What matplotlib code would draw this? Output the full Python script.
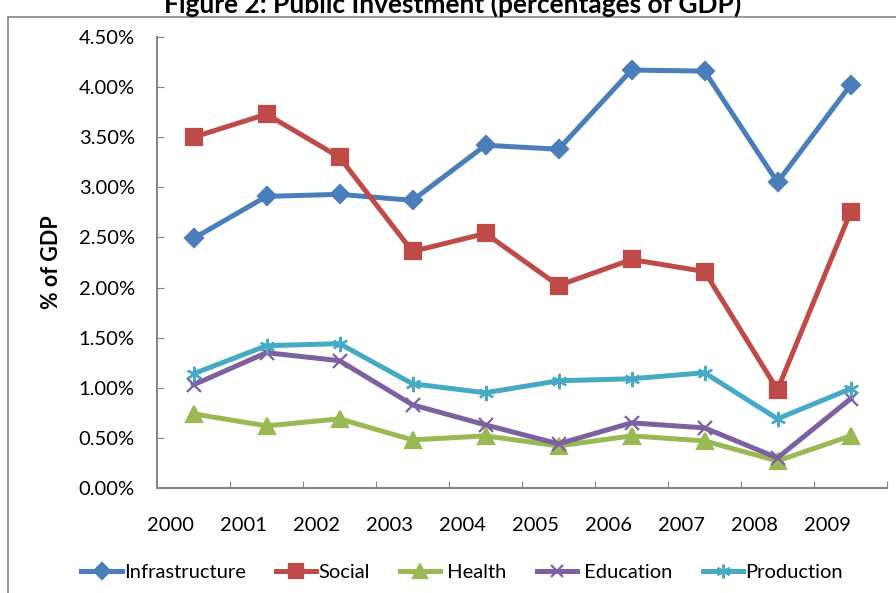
import matplotlib
matplotlib.use("Agg")
import matplotlib.pyplot as plt
from matplotlib.lines import Line2D
from matplotlib.ticker import FuncFormatter, FixedLocator

# --- Data (percent of GDP)
years = ["2000", "2001", "2002", "2003", "2004", "2005", "2006", "2007", "2008", "2009"]
infrastructure = [2.49, 2.91, 2.93, 2.87, 3.42, 3.38, 4.17, 4.16, 3.05, 4.02]
social = [3.50, 3.73, 3.30, 2.36, 2.54, 2.02, 2.28, 2.16, 0.98, 2.75]
health = [0.74, 0.62, 0.69, 0.48, 0.52, 0.42, 0.52, 0.47, 0.27, 0.52]
education = [1.03, 1.35, 1.27, 0.83, 0.63, 0.44, 0.65, 0.60, 0.30, 0.89]
production = [1.14, 1.42, 1.44, 1.04, 0.95, 1.07, 1.09, 1.15, 0.69, 0.99]

series = [
    ("Infrastructure", infrastructure, "#4A7EBB", "D", 9),
    ("Social", social, "#BE4B48", "s", 11),
    (" Health", health, "#98B954", "^", 11),
    (" Education", education, "#7D60A0", "x", 10),
    ("Production", production, "#46AAC5", (6, 2, 0), 11),
]

plt.rcParams['font.family'] = ['Lato', 'DejaVu Sans']

W, H = 896, 593
fig = plt.figure(figsize=(W / 100, H / 100), dpi=100)
ax = fig.add_axes([157 / W, (H - 488) / H, (887 - 157) / W, (488 - 37) / H])

x = [i + 0.5 for i in range(len(years))]
for name, vals, col, mk, ms in series:
    ax.plot(x, vals, color=col, lw=3.6, marker=mk, ms=ms, mew=1.6,
            mec=col, mfc=col, label=name, solid_joinstyle="miter")

ax.set_xlim(0, len(years))
ax.set_ylim(0, 4.5)
ax.set_yticks([i * 0.5 for i in range(10)])
ax.yaxis.set_major_formatter(FuncFormatter(lambda v, p: f"{v:.2f}%"))

# tick marks at category boundaries, labels slightly left of centers
ax.xaxis.set_major_locator(FixedLocator(list(range(1, len(years) + 1))))
ax.xaxis.set_major_formatter(FuncFormatter(lambda v, p: ""))
ax.xaxis.set_minor_locator(FixedLocator([i + 0.18 for i in range(len(years))]))
ax.set_xticklabels(years, minor=True)
ax.tick_params(axis="x", which="minor", length=0, pad=21, labelsize=14.5)
ax.tick_params(axis="x", which="major", direction="in", length=5, color="#868686")
ax.tick_params(axis="y", direction="in", length=5, color="#868686", pad=16, labelsize=14.5)

for s in ["top", "right"]:
    ax.spines[s].set_visible(False)
for s in ["left", "bottom"]:
    ax.spines[s].set_color("#868686")
    ax.spines[s].set_linewidth(1.5)

ax.set_ylabel("% of GDP", fontsize=15.5, fontweight="bold", labelpad=12)

fig.text(453 / W, 1 - 4 / H, "Figure 2: Public Investment (percentages of GDP)",
         ha="center", va="center", fontsize=19, fontweight="bold")

# chart border
fig.add_artist(Line2D([8 / W, 8 / W], [0, 1 - 17 / H], transform=fig.transFigure,
                      color="#868686", lw=1.2))
fig.add_artist(Line2D([8 / W, 1], [1 - 17 / H, 1 - 17 / H], transform=fig.transFigure,
                      color="#868686", lw=1.2))

handles, labels = ax.get_legend_handles_labels()
fig.legend(handles, labels, loc="center", bbox_to_anchor=(462 / W, 1 - 572 / H),
           ncol=5, frameon=False, fontsize=14.5, handlelength=2.0,
           handletextpad=0.1, columnspacing=1.5, markerscale=0.9)

fig.savefig("out.png", dpi=100)
